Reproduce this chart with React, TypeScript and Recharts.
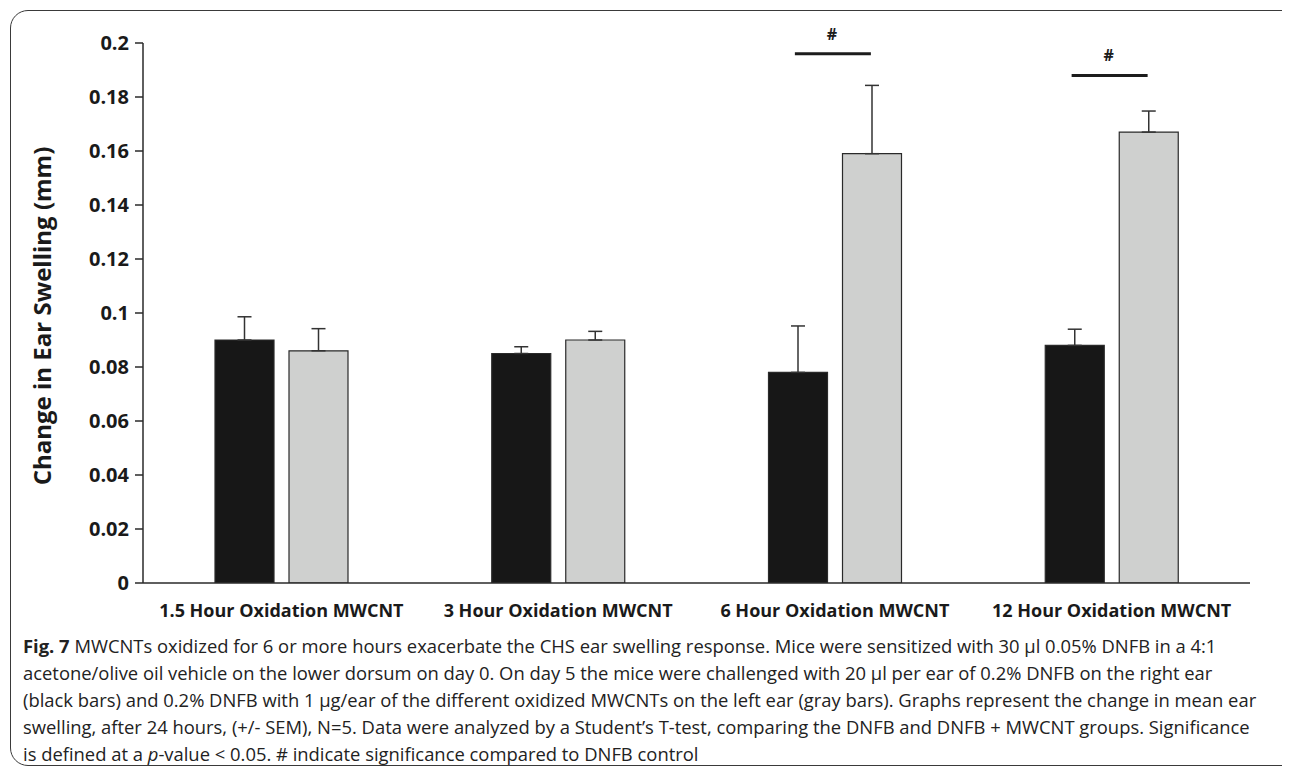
import React from 'react';
import { BarChart, Bar, XAxis, YAxis, ErrorBar, ReferenceDot, Label } from 'recharts';

const categories = [
  '1.5 Hour Oxidation MWCNT',
  '3 Hour Oxidation MWCNT',
  '6 Hour Oxidation MWCNT',
  '12 Hour Oxidation MWCNT',
];
const dnfbValues = [0.09, 0.085, 0.078, 0.088];
const dnfbSem = [0.0086, 0.0025, 0.0172, 0.006];
const mwcntValues = [0.086, 0.09, 0.159, 0.167];
const mwcntSem = [0.0082, 0.0032, 0.0253, 0.0078];
const sigLevels: (number | null)[] = [null, null, 0.196, 0.188];
const yTicks = [0, 0.02, 0.04, 0.06, 0.08, 0.1, 0.12, 0.14, 0.16, 0.18, 0.2];

const data = categories.map((c, i) => ({
  name: c,
  dnfb: dnfbValues[i],
  dnfbErr: [0, dnfbSem[i]],
  mwcnt: mwcntValues[i],
  mwcntErr: [0, mwcntSem[i]],
}));

const FONT = '"Open Sans", sans-serif';

const SigShape = (props: any) => {
  const { cx, cy } = props;
  return (
    <g>
      <line x1={cx - 40} x2={cx + 36} y1={cy} y2={cy} stroke="#1c1c1c" strokeWidth={3} />
      <text x={cx - 3} y={cy - 14} textAnchor="middle" fontFamily={FONT} fontWeight={700} fontSize={16} fill="#1c1c1c">#</text>
    </g>
  );
};

const YLabel = (props: any) => {
  const vb = props.viewBox || { x: 0, y: 0, width: 0, height: 0 };
  const x = vb.x + 33;
  const y = vb.y + vb.height / 2 + 3;
  return (
    <text x={x} y={y} transform={`rotate(-90, ${x}, ${y})`} textAnchor="middle" dominantBaseline="central"
      fontFamily={FONT} fontWeight={700} fontSize={24} fill="#1a1a1a">
      Change in Ear Swelling (mm)
    </text>
  );
};

export default function App() {
  return (
    <div style={{ position: 'relative', width: 1282, height: 762, overflow: 'hidden', fontFamily: FONT }}>
      <div style={{ position: 'absolute', left: 2, top: 2, width: 1296, height: 756, border: '1.5px solid #3a3a3a', borderRadius: 18, boxSizing: 'border-box' }} />
      <div style={{ position: 'absolute', left: 0, top: 0 }}>
        <BarChart width={1282} height={640} data={data} margin={{ top: 35, right: 40, bottom: 15, left: 0 }} barSize={59} barGap={15}>
          <XAxis dataKey="name" height={50} tickSize={0} tickMargin={21} axisLine={{ stroke: '#2a2a2a', strokeWidth: 1.5 }} tickLine={false}
            tick={{ fontFamily: FONT, fontWeight: 700, fontSize: 18, fill: '#1a1a1a' }} interval={0} />
          <YAxis width={135} domain={[0, 0.2]} ticks={yTicks} tickSize={8} tickMargin={6} allowDataOverflow
            axisLine={{ stroke: '#2a2a2a', strokeWidth: 1.5 }} tickLine={{ stroke: '#2a2a2a', strokeWidth: 1.5 }}
            tick={{ fontFamily: FONT, fontWeight: 700, fontSize: 20, fill: '#1a1a1a' }}>
            <Label content={YLabel} />
          </YAxis>
          <Bar dataKey="dnfb" fill="#171717" stroke="#2a2a2a" strokeWidth={1.2} isAnimationActive={false}>
            <ErrorBar dataKey="dnfbErr" direction="y" width={7} stroke="#333" strokeWidth={1.5} />
          </Bar>
          <Bar dataKey="mwcnt" fill="#cfd0cf" stroke="#2a2a2a" strokeWidth={1.2} isAnimationActive={false}>
            <ErrorBar dataKey="mwcntErr" direction="y" width={7} stroke="#333" strokeWidth={1.5} />
          </Bar>
          {categories.map((c, i) =>
            sigLevels[i] != null ? (
              <ReferenceDot key={c} x={c} y={sigLevels[i] as number} r={0} ifOverflow="visible" shape={SigShape} />
            ) : null
          )}
        </BarChart>
      </div>
      <div style={{ position: 'absolute', left: 15, top: 624, fontSize: 18.4, lineHeight: '27px', color: '#222', whiteSpace: 'nowrap' }}>
        <div><b>Fig. 7</b> MWCNTs oxidized for 6 or more hours exacerbate the CHS ear swelling response. Mice were sensitized with 30 μl 0.05% DNFB in a 4:1</div>
        <div>acetone/olive oil vehicle on the lower dorsum on day 0. On day 5 the mice were challenged with 20 μl per ear of 0.2% DNFB on the right ear</div>
        <div>(black bars) and 0.2% DNFB with 1 μg/ear of the different oxidized MWCNTs on the left ear (gray bars). Graphs represent the change in mean ear</div>
        <div>swelling, after 24 hours, (+/- SEM), N=5. Data were analyzed by a Student’s T-test, comparing the DNFB and DNFB + MWCNT groups. Significance</div>
        <div>is defined at a <i>p</i>-value &lt; 0.05. # indicate significance compared to DNFB control</div>
      </div>
    </div>
  );
}
